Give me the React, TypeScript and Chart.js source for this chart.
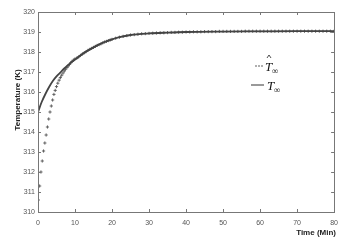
import React, { useEffect, useRef } from "react";
import { Chart, registerables } from "chart.js";

Chart.register(...registerables);

const xTicks = [0, 10, 20, 30, 40, 50, 60, 70, 80];
const yTicks = [310, 311, 312, 313, 314, 315, 316, 317, 318, 319, 320];

const lineTimes = [0, 1, 2, 3, 4, 5, 6, 7, 8, 9, 10, 12, 14, 16, 18, 20, 22, 25, 30, 35, 40, 50, 60, 70, 80];
const lineTemps = [315.0, 315.5, 315.9, 316.25, 316.55, 316.78, 316.97, 317.17, 317.33, 317.48, 317.62, 317.9, 318.13, 318.33, 318.5, 318.63, 318.74, 318.85, 318.93, 318.97, 319.0, 319.02, 319.03, 319.04, 319.04];

const markerTimes = [
  0.1, 0.45, 0.8, 1.15, 1.5, 1.85, 2.2, 2.55, 2.9, 3.25, 3.6, 3.95, 4.3, 4.65, 5.0, 5.35, 5.7, 6.05, 6.4, 6.75,
  7.1, 7.45, 7.8, 8.15, 8.5, 8.85, 9.2, 9.55, 9.9,
  10.5, 11, 11.5, 12, 12.5, 13, 13.5, 14, 14.5, 15, 15.5, 16, 16.5, 17, 17.5, 18, 18.5, 19, 19.5, 20,
  21, 22, 23, 24, 25, 26, 27, 28, 29, 30, 31, 32, 33, 34, 35, 36, 37, 38, 39, 40,
  41, 42, 43, 44, 45, 46, 47, 48, 49, 50, 51, 52, 53, 54, 55, 56, 57, 58, 59, 60,
  61, 62, 63, 64, 65, 66, 67, 68, 69, 70, 71, 72, 73, 74, 75, 76, 77, 78, 79, 80,
];
const markerTemps = [
  310.6, 311.3, 312.0, 312.55, 313.05, 313.45, 313.85, 314.25, 314.65, 315.0, 315.3, 315.6, 315.88, 316.08, 316.27, 316.44, 316.59, 316.72, 316.84, 316.95,
  317.05, 317.14, 317.22, 317.3, 317.38, 317.46, 317.53, 317.59, 317.64,
  317.7, 317.76, 317.83, 317.9, 317.96, 318.02, 318.08, 318.13, 318.18, 318.23, 318.28, 318.33, 318.37, 318.41, 318.46, 318.5, 318.53, 318.57, 318.6, 318.63,
  318.69, 318.74, 318.78, 318.82, 318.85, 318.87, 318.89, 318.91, 318.92, 318.93, 318.94, 318.95, 318.96, 318.96, 318.97, 318.98, 318.98, 318.99, 318.99, 319.0,
  319.0, 319.01, 319.01, 319.01, 319.02, 319.02, 319.02, 319.02, 319.03, 319.03, 319.03, 319.03, 319.03, 319.03, 319.03, 319.04, 319.04, 319.04, 319.04, 319.04,
  319.04, 319.04, 319.04, 319.04, 319.04, 319.04, 319.04, 319.04, 319.04, 319.04, 319.04, 319.04, 319.04, 319.04, 319.04, 319.04, 319.04, 319.04, 319.04, 319.04,
];

const framePlugin = {
  id: "framePlugin",
  afterDraw(chart: any) {
    const { ctx, chartArea } = chart;
    const { left, right, top, bottom } = chartArea;
    const xs = chart.scales.x;
    const ys = chart.scales.y;
    ctx.save();
    ctx.strokeStyle = "#777";
    ctx.lineWidth = 1;
    ctx.strokeRect(Math.round(left) + 0.5, Math.round(top) + 0.5, Math.round(right - left), Math.round(bottom - top));
    ctx.beginPath();
    const tl = 3;
    for (const v of xTicks) {
      const px = Math.round(xs.getPixelForValue(v)) + 0.5;
      ctx.moveTo(px, bottom);
      ctx.lineTo(px, bottom - tl);
      ctx.moveTo(px, top);
      ctx.lineTo(px, top + tl);
    }
    for (const v of yTicks) {
      const py = Math.round(ys.getPixelForValue(v)) + 0.5;
      ctx.moveTo(left, py);
      ctx.lineTo(left + tl, py);
      ctx.moveTo(right, py);
      ctx.lineTo(right - tl, py);
    }
    ctx.stroke();

    // axis titles
    ctx.fillStyle = "#222";
    ctx.font = "bold 8px 'Liberation Sans', Arial, sans-serif";
    ctx.textAlign = "center";
    ctx.textBaseline = "middle";
    ctx.save();
    ctx.translate(18, 100);
    ctx.rotate(-Math.PI / 2);
    ctx.fillText("Temperature (K)", 0, 0);
    ctx.restore();
    ctx.textAlign = "right";
    ctx.fillText("Time (Min)", 336, 233);

    // legend
    const lx = 256;
    const ly1 = 66;
    const ly2 = 85;
    ctx.strokeStyle = "#777";
    ctx.lineWidth = 0.7;
    ctx.beginPath();
    for (let i = 0; i < 3; i++) {
      const cx = lx + i * 3;
      ctx.moveTo(cx - 1, ly1);
      ctx.lineTo(cx + 1, ly1);
      ctx.moveTo(cx, ly1 - 1);
      ctx.lineTo(cx, ly1 + 1);
    }
    ctx.stroke();
    ctx.strokeStyle = "#555";
    ctx.lineWidth = 1.2;
    ctx.beginPath();
    ctx.moveTo(251, ly2);
    ctx.lineTo(264, ly2);
    ctx.stroke();

    // hat
    ctx.strokeStyle = "#222";
    ctx.lineWidth = 0.8;
    ctx.beginPath();
    ctx.moveTo(267, ly1 - 8);
    ctx.lineTo(269, ly1 - 11);
    ctx.lineTo(271, ly1 - 8);
    ctx.stroke();

    ctx.fillStyle = "#111";
    ctx.textAlign = "left";
    ctx.textBaseline = "alphabetic";
    ctx.font = "italic 13px 'Liberation Serif', 'Times New Roman', serif";
    ctx.fillText("T", 265, ly1 + 5);
    ctx.fillText("T", 267, ly2 + 5);
    ctx.font = "italic 9px 'Liberation Serif', serif";
    ctx.fillText("\u221E", 272, ly1 + 8);
    ctx.fillText("\u221E", 274, ly2 + 8);
    ctx.restore();
  },
};

export default function App() {
  const ref = useRef<HTMLCanvasElement | null>(null);
  useEffect(() => {
    if (!ref.current) return;
    const chart = new Chart(ref.current, {
      type: "scatter",
      data: {
        datasets: [
          {
            label: "T_inf",
            data: lineTimes.map((t, i) => ({ x: t, y: lineTemps[i] })),
            showLine: true,
            borderColor: "#444",
            borderWidth: 1.8,
            pointRadius: 0,
            cubicInterpolationMode: "monotone",
          } as any,
          {
            label: "T_hat_inf",
            data: markerTimes.map((t, i) => ({ x: t, y: markerTemps[i] })),
            showLine: false,
            pointStyle: "cross",
            pointRadius: 1.6,
            borderColor: "#555",
            borderWidth: 0.9,
            backgroundColor: "#555",
          } as any,
        ],
      },
      options: {
        animation: false,
        responsive: false,
        maintainAspectRatio: false,
        layout: { padding: { top: 12, right: 5, left: 0, bottom: 0 } },
        plugins: { legend: { display: false }, tooltip: { enabled: false } },
        scales: {
          x: {
            type: "linear",
            min: 0,
            max: 80,
            afterBuildTicks: (s: any) => {
              s.ticks = xTicks.map((v) => ({ value: v }));
            },
            afterFit: (s: any) => {
              s.height = 31;
            },
            grid: { display: false, drawTicks: false },
            border: { display: false },
            ticks: {
              padding: 7,
              color: "#555",
              font: { size: 7, family: "'Liberation Sans', Arial, sans-serif" },
              maxRotation: 0,
            },
          },
          y: {
            type: "linear",
            min: 310,
            max: 320,
            afterBuildTicks: (s: any) => {
              s.ticks = yTicks.map((v) => ({ value: v }));
            },
            afterFit: (s: any) => {
              s.width = 38;
            },
            grid: { display: false, drawTicks: false },
            border: { display: false },
            ticks: {
              padding: 3,
              color: "#555",
              font: { size: 7, family: "'Liberation Sans', Arial, sans-serif" },
            },
          },
        },
      },
      plugins: [framePlugin],
    });
    return () => chart.destroy();
  }, []);
  return (
    <div style={{ position: "fixed", left: 0, top: 0, width: 345, height: 243, background: "#fff" }}>
      <canvas ref={ref} width={345} height={243} style={{ width: 345, height: 243, display: "block" }} />
    </div>
  );
}
